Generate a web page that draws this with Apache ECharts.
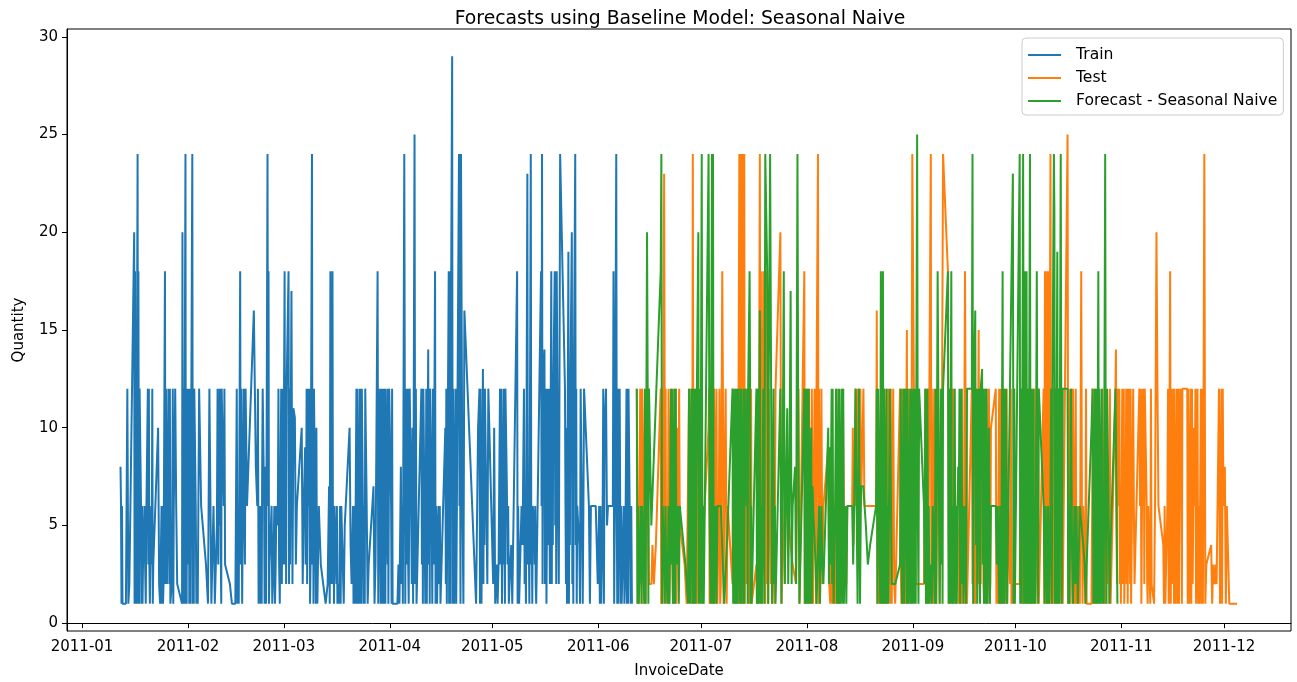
<!DOCTYPE html>
<html><head><meta charset="utf-8">
<script src="https://cdn.jsdelivr.net/npm/echarts@6/dist/echarts.min.js"></script>
<style>html,body{margin:0;padding:0;background:#fff}#c{width:1297px;height:682px}</style>
</head><body><div id="c"></div>
<script>
// [day offset from 2011-01-01, quantities recorded that day]
const train = [
[11,[8,6,1,6,1]],[12,[1,1]],[13,[12,1,2]],[15,[20,1,18,3,12,1]],[16,[24,1,18,6,1,12]],[17,[6,1,6,1,3]],[18,[6,3,1,6]],[19,[12,3,12,3,1]],[20,[6,3,12,1,3]],
[22,[10,2,1]],[23,[6,1,6,1,2]],[24,[18,2,12,6,2]],[25,[12,6,2,12,1]],[26,[2,6,12,1,6]],[27,[12,6,2]],[29,[1,20,1,3,12,1]],[30,[24,1,6,1,12,3]],
[31,[12,1,12,3,1,6]],[32,[24,1,6,1,12]],[33,[6,1,3,1]],[34,[12,6]],[36,[3,1]],[37,[12,1]],[38,[1,6,4,1]],[39,[1,5,12,3]],[40,[12,5,12,3,1,12]],
[41,[12,6,12,3]],[43,[2,1]],[44,[1,1]],[45,[12,1,3,1]],[46,[18,3,12,6,1]],[47,[12,6,3,12]],[48,[6,6]],[50,[16,8]],[51,[6,12,1,6]],
[52,[1,6,1,8,12]],[53,[6,1,8,3,1]],[54,[24,6,18,1,3]],[55,[3,6,1,2]],[56,[6,1,3,6]],[57,[5,12,3,1]],[58,[12,2,12,3]],[59,[18,3,12,2,12]],
[60,[12,18,2,12,3]],[61,[17,2,11]],[62,[10.5,3,6]],[64,[10,2,6]],[65,[9,3,6,12,2]],[66,[12,6,12,1,3]],[67,[24,3,12,1,12]],
[68,[12,1,10,3,1]],[69,[6,3]],[71,[1,2]],[72,[7,1,18,2]],[73,[18,2,6,1,6]],[74,[6,2,6,1,2]],[75,[1,6,1,6]],[76,[6,1,5]],
[78,[10,4,2]],[79,[6,1,2,6,1]],[80,[12,1,12,6,1]],[81,[12,1,12,6,1,12]],[82,[12,1,6,1,12]],[83,[6,1,3]],[85,[7,1,3]],[86,[3,18,1,12]],
[87,[12,1,12,6,1,12,1]],[88,[12,1,6,12,1,12]],[89,[12,3,12,1,6,12]],[90,[12,6,1,12,1]],[92,[1,3,1]],[93,[8,2,6,1]],[94,[24,12,1,12,3]],
[95,[12,3,1,6,12]],[96,[6,2,10,1]],[97,[25,2,12,1]],[99,[12,3,12,1,12]],[100,[12,1,6,12,1]],[101,[14,3,12,1,12]],[102,[6,1,12,3]],
[103,[18,1,6,5,1]],[104,[6,2,6,1]],[106,[10,2,12,1,6]],[107,[18,1,12,18,1,12]],[108,[29,1,12,6,1]],[109,[12,1,6,12]],[110,[24,6,12,1,24]],
[111,[6,1,16]],[115,[1,10]],[116,[12,1,12,4,1]],[117,[13,2,12,4,12]],[118,[6,2,12]],[120,[2,10,1]],[121,[3,1,3]],[122,[12,3,12,6,1]],
[123,[12,3,6,1,12]],[124,[7,3,6,1]],[125,[3,4,1]],[127,[18,1,6,4,1]],[128,[1,6,4]],[129,[12,2,5,1]],[130,[23,3,6,4,1]],
[131,[24,3,5,1,6]],[132,[5,3,6,2,1]],[134,[18,6,24,2,12]],[135,[14,2,6,12,1]],[136,[12,4,12,6,2]],[137,[18,2,12,4,12]],
[138,[18,5,12,2,18]],[139,[6,2,12,24]],[141,[12,6,2,10,1]],[142,[19,1,6,4,12]],[143,[20,2,6,1,12]],[144,[24,4,12,1,6]],[145,[6,4,1,12]],
[146,[12,1,6,12]],[148,[6,1,6]],[149,[6]],[150,[6,2]],[151,[6,1,6,1]],[152,[5,12,1,10]],[153,[12,5,6]],[155,[6,18,1,6]],
[156,[24,6,1,12,1]],[157,[12,6,1,6,1]],[158,[1,6,1,2]],[159,[12,1,6,1,12]],[160,[12,1,6,1]]
];
const test = [
[162,[12,8,1,6,1]],[163,[12,2,6,1,12]],[164,[6,1,12,1]],[165,[12,6,2]],[166,[2,2,4]],[167,[2,4]],[169,[12,1,6,12,1]],[170,[23,12,3,12,1]],
[171,[2,6,12,1,2]],[172,[12,6,3,1]],[173,[12,1,6,12,1]],[174,[10,6,12,5]],[176,[3,1]],[177,[1,12,6]],[178,[12,1,24,1]],[179,[12,6,1,12,1]],
[180,[12,2,6,5]],[181,[12,1,5]],[183,[10,12,1,6,1]],[184,[1,6,12,1,12]],[185,[6,1,12,6,1]],[186,[6,12,1,2]],[187,[18,12,1,6]],[188,[12,1,6]],
[190,[2,12,6,1]],[191,[12,1,2,12,1]],[192,[24,12,6,24,1]],[193,[24,1,12,24,1]],[194,[12,2,12,1]],[195,[12,1,6,12,1]],[197,[3,1,12,6,1]],
[198,[24,3,18,6,1]],[199,[18,10,18,12,1]],[200,[18,2,12,1,12]],[201,[12,2,6,1]],[202,[6,1,12]],[204,[20,6,1,6]],[205,[6,2,6]],[206,[6,5]],
[207,[4,3]],[208,[3,2]],[209,[2,12,1]],[211,[18,1,12,6,1]],[212,[12,1,12,2]],[213,[1,12,6,1]],[214,[12,6,12,1,12]],[215,[24,1,12,6,1]],
[216,[12,2,6]],[218,[9,2,1]],[219,[6,1,6,2]],[220,[1,6,12,1]],[221,[6,1,6,2]],[222,[6,12,6]],[223,[6,2,6]],[225,[6,10,4,6]],
[226,[12,6,12,6]],[227,[12,6,12,6]],[228,[6,12,6]],[229,[6]],[230,[6]],[232,[6,16,1,6]],[233,[1,6,12,1]],[234,[12,1,12,1]],
[235,[1,12,1,6,12]],[236,[12,1,12,6,1]],[237,[12,2,1]],[239,[12,3,1,12]],[240,[1,2,12,1]],[241,[15,1,6,12]],[242,[6,1,24]],[243,[24,6,2]],
[244,[2,2]],[246,[2,2,12,1]],[247,[12,1,6,12]],[248,[24,1,12,6,1]],[249,[12,1,6,1]],[250,[1,12,6,1]],[251,[1,12,24]],[253,[18,5,1,6]],
[254,[6,12,1,12]],[255,[12,6,1,6]],[256,[6,1,6,1]],[257,[12,1,6,1]],[258,[18,12,1,12,1]],[260,[12,2,12,1]],[261,[12,1,6,12,2]],[262,[15,2,12,2]],
[263,[2,12,2,1]],[264,[12,2,12,1,2]],[265,[12,1,2,10]],[267,[12,1,6,1]],[268,[12,1,6,1,12]],[269,[1,6,12,1]],[270,[2,12,1,6]],[271,[6,2,12,1]],
[272,[2,1,12,2]],[274,[2,2,12,1]],[275,[12,1,12,2]],[276,[1,12,2,1]],[277,[12,1,6,1]],[278,[12,1,12,1]],[279,[1,6,12,1]],[281,[12,1,18,1]],
[282,[18,1,18,12,1]],[283,[24,1,12,1]],[284,[12,1,6,1]],[285,[1,12,1,6]],[286,[6,1,12,1]],[288,[25,1,12,1]],[289,[12,6,1,12]],[290,[1,6,12,1]],
[291,[6,1,6,1]],[292,[18,6,1,6]],[293,[6,1,12,1]],[295,[1,6,12,1]],[296,[12,1,6,1]],[297,[12,2,6,1]],[298,[1,12,6,1]],[299,[12,1,6,2]],
[300,[6,1,12,1]],[302,[12,14,6,2,12]],[303,[6,12,2,6,1]],[304,[12,2,6,12,1]],[305,[6,12,2,12,1]],[306,[12,6,2,12,1]],[307,[1,12,6,2]],
[309,[12,6,12,1]],[310,[12,6,12,2,12]],[311,[12,6,2,1,6]],[312,[6,1,12,2]],[313,[2,1,6]],[314,[20,12,6]],[316,[4,1,6,1]],[317,[1,6,12,1]],
[318,[18,1,12,2]],[319,[12,1,12,6,1]],[320,[12,1,12,1]],[321,[12,6,12,1,12]],[323,[12,1,12,6,1]],[324,[12,1,12,2]],[325,[10,6,12,1]],
[326,[12,1,6,1]],[327,[12,1,12,1]],[328,[24,1,3]],[330,[4,1,3]],[331,[2,3,2]],[332,[2,12,1]],[333,[12,1,12,6]],[334,[8,1,6]],
[335,[6,1,1]],[336,[1]],[337,[1,1]]
];
const forecast = [
[162,[12,1,6,1]],[163,[1,6,1,6]],[164,[6,1,12,1]],[165,[20,12,1,12]],[166,[5]],[169,[18,24,1,6]],[170,[3,1,6,3]],[171,[1,6,1]],
[172,[12,3,12,6,1]],[173,[12,1,12,3]],[174,[6,1,6]],[176,[3]],[177,[1,12,1]],[178,[12,6,1,12,1]],[179,[12,1,6,12]],[180,[20,1,12,6,1]],
[181,[24,1,6,1]],[183,[24,6,1]],[184,[24,1,24,6,1]],[185,[6,1,6]],[186,[6,6]],[187,[6,1]],[188,[1,5]],[190,[12,1,12,1]],
[191,[12,1,12,1,12]],[192,[12,1,12,6,1,12]],[193,[12,1,12,1,12]],[194,[12,6,12,1,12]],[195,[18,12,1,6,1]],[197,[12,1,6,12,1]],[198,[16,1,6,1]],
[199,[12,1,24]],[200,[24,18,12,1,12]],[201,[24,18,12,6,1]],[202,[12,2,6,1]],[204,[12,1,6]],[205,[18,2,6]],[206,[11,2,6]],
[207,[17,2,6]],[208,[6,8,2]],[209,[24,12,6,1]],[211,[12,1,6,12,1]],[212,[12,1,12,6,1]],[213,[10,1,7,6]],[214,[6,3,1]],[215,[1,6,1]],
[216,[6,3,2]],[218,[10,2,9,3]],[219,[12,2,12,3,1]],[220,[6,12,1]],[221,[12,1,12,6,1]],[222,[12,1,12,1]],[223,[6,1,6]],[225,[6,3,6]],
[226,[12,6,1]],[227,[12,1,7]],[228,[7]],[229,[5,3]],[230,[4]],[232,[6,12,1,12]],[233,[12,1,18,1]],[234,[18,1,12,6,1]],[235,[12,1,6,1]],
[236,[12,2]],[237,[2,2]],[239,[3,12,6,1]],[240,[12,1,6,12]],[241,[1,12,6,1]],[242,[12,1,12,1]],[243,[12,1,6,12,1]],[244,[25,6,1,12]],
[246,[6,2,12,1]],[247,[12,1,6,1]],[248,[3,1,6]],[249,[6,1,12,1]],[250,[18,12,6,1]],[251,[12,3,12,1,12]],[253,[18,1,12,1]],[254,[18,1,6,3,1]],
[255,[12,1,6,1]],[256,[8,6,12,1]],[257,[12,2,6,1]],[258,[6,1,12]],[260,[12,24,1,12]],[261,[16,4,12,1]],[262,[12,6,1,12]],[263,[13,3,12,1]],
[264,[12,1,12,6,1]],[265,[10,1,6]],[267,[6,3,6]],[268,[1,6,1]],[269,[18,1,12,1]],[270,[12,1,1]],[272,[23,1,12,1]],[274,[24,1,12,6,1]],
[275,[24,12,1,18,1]],[276,[18,1,12,6,1]],[277,[24,1,12,1]],[278,[12,1,6,1]],[279,[18,6,1,12]],[281,[6,1,6]],[282,[1,6,1]],
[283,[6,12,1,12]],[284,[24,21,1,12,1]],[285,[19,1,12,6,1]],[286,[24,1,12]],[288,[12,1,6,1]],[289,[12,4,1]],[290,[6,2,6]],[291,[1,6]],
[292,[6,4]],[293,[3,1,3]],[295,[10,12,1]],[296,[12,1,12,1]],[297,[18,1,12,6,1]],[298,[12,1,6,1]],[299,[24,6,1,12]],[300,[12,1,4]],
[302,[12,1]]
];
const monthTicks = ['2011-01-01','2011-02-01','2011-03-01','2011-04-01','2011-05-01','2011-06-01','2011-07-01','2011-08-01','2011-09-01','2011-10-01','2011-11-01','2011-12-01'];
const yTicks = [0,5,10,15,20,25,30];

const DAY = 86400000;
const BASE = Date.UTC(2011,0,1);
function toPoints(groups){
  const pts=[];
  groups.forEach(function(g){
    const d=g[0], vals=g[1], n=vals.length;
    vals.forEach(function(v,i){
      const h = n>1 ? 6 + 14*i/(n-1) : 12;
      pts.push([BASE + (d + h/24)*DAY, v]);
    });
  });
  return pts;
}
const monthTs = monthTicks.map(function(s){const p=s.split('-');return Date.UTC(+p[0],+p[1]-1,+p[2]);});
const FONT='DejaVu Sans';
const chart = echarts.init(document.getElementById('c'));
function mkSeries(name, data, color){
  return {name:name,type:'line',data:toPoints(data),symbol:'none',showSymbol:false,
    lineStyle:{width:2,color:color},itemStyle:{color:color},emphasis:{disabled:true},silent:true};
}
chart.setOption({
  animation:false,
  backgroundColor:'#fff',
  textStyle:{fontFamily:FONT},
  title:{text:'Forecasts using Baseline Model: Seasonal Naive',left:675,top:5,textAlign:'center',
    textStyle:{fontSize:18.8,fontWeight:'normal',color:'#000',fontFamily:FONT}},
  legend:{orient:'vertical',left:1022,top:38,padding:[9,6,6,6],itemGap:7,itemWidth:33,itemHeight:2,icon:'rect',
    backgroundColor:'rgba(255,255,255,0.8)',borderColor:'#cccccc',borderWidth:1,borderRadius:4,
    textStyle:{fontSize:15.6,color:'#000',fontFamily:FONT,padding:[0,0,0,10]},
    data:['Train','Test','Forecast - Seasonal Naive']},
  grid:{left:67,right:6,top:29,bottom:51,show:true,borderColor:'#000',borderWidth:1,containLabel:false,outerBoundsMode:'none'},
  xAxis:{type:'value',min:BASE-4.4*DAY,max:BASE+353.6*DAY,
    name:'InvoiceDate',nameLocation:'middle',nameGap:33,nameTextStyle:{fontSize:15,color:'#000',fontFamily:FONT},
    splitLine:{show:false},axisLine:{show:true,lineStyle:{color:'#000',width:1}},
    axisTick:{show:true,length:5,lineStyle:{color:'#000'},customValues:monthTs},
    axisLabel:{customValues:monthTs,fontSize:15,color:'#000',fontFamily:FONT,margin:9,
      formatter:function(v){const d=new Date(v);const m=d.getUTCMonth()+1;return d.getUTCFullYear()+'-'+(m<10?'0':'')+m;}}},
  yAxis:{type:'value',min:-0.4,max:30.4,
    name:'Quantity',nameLocation:'middle',nameGap:40,nameTextStyle:{fontSize:15,color:'#000',fontFamily:FONT},
    splitLine:{show:false},axisLine:{show:true,lineStyle:{color:'#000',width:1}},
    axisTick:{show:true,length:5,lineStyle:{color:'#000'},customValues:yTicks},
    axisLabel:{customValues:yTicks,fontSize:15,color:'#000',fontFamily:FONT,margin:9}},
  series:[mkSeries('Train',train,'#1f77b4'),mkSeries('Test',test,'#ff7f0e'),mkSeries('Forecast - Seasonal Naive',forecast,'#2ca02c')]
});
</script></body></html>
